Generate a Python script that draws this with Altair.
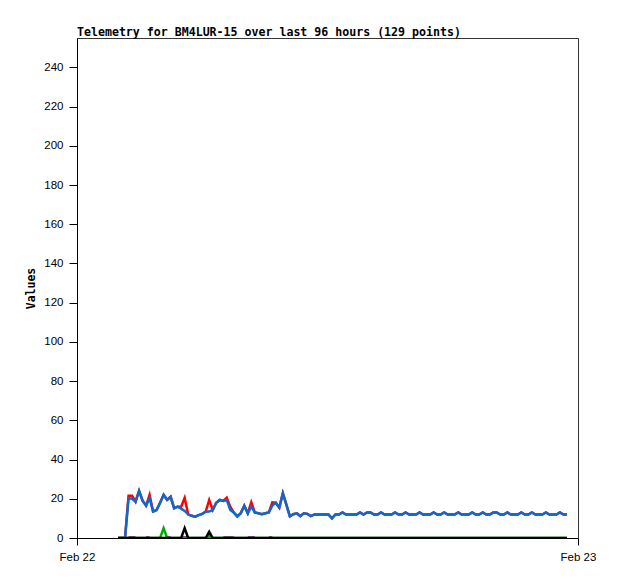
import altair as alt
import pandas as pd

title_text = "Telemetry for BM4LUR-15 over last 96 hours (129 points)"
x_tick_labels = ["Feb 22", "Feb 23"]
y_ticks = [0, 20, 40, 60, 80, 100, 120, 140, 160, 180, 200, 220, 240]

# hours after Feb 22 00:00 of first sample and sample spacing (10 min)
t_first = 1.965
t_step = 0.168

blue = [0, 0, 0, 20.3, 20, 18.5, 24, 19, 16.5, 20.3,
        13.5, 14.3, 18, 22, 19.4, 21, 15.2, 16, 15, 13.8,
        12.1, 11.3, 10.9, 11.7, 12.3, 13.4, 13.5, 14.3, 18, 19.4,
        18.9, 19.4, 14.3, 13, 11, 12.6, 16.5, 12.6, 16, 13,
        12.6, 12.1, 12.6, 13, 16.5, 18, 15.5, 22.8, 17, 11,
        12.1, 12.6, 11.2, 12.6, 12.3, 11.2, 12, 12, 12, 12,
        12, 10, 12, 12, 13, 12, 12, 12, 12, 13,
        12, 13, 13, 12, 12, 13, 12, 12, 12, 13,
        12, 12, 13, 12, 12, 12, 13, 12, 12, 12,
        13, 12, 12, 13, 12, 12, 12, 13, 12, 12,
        12, 13, 12, 12, 13, 12, 12, 13, 13, 12,
        12, 13, 12, 12, 12, 13, 12, 12, 13, 12,
        12, 12, 13, 12, 12, 12, 13, 12, 12]

red_override = {3: 21.5, 4: 21.5, 9: 22, 18: 16, 19: 20.5, 26: 19.4,
                31: 20.6, 32: 16, 38: 18.2, 44: 18.2}
red = [red_override.get(i, v) for i, v in enumerate(blue)]

green = [0] * 129
green[13] = 5
green[26] = 1

black = [0] * 129
black[19] = 5
black[26] = 3.2

# purple is visible only in short stretches along the baseline
purple_segments = [(3, 5), (8, 9), (14, 15), (18, 20), (25, 26), (30, 33), (37, 39), (43, 44)]

rows = []
for i in range(129):
    t = t_first + i * t_step
    rows.append({"t": t, "v": red[i], "s": "red", "seg": 0})
    rows.append({"t": t, "v": blue[i], "s": "blue", "seg": 0})
    rows.append({"t": t, "v": green[i], "s": "green", "seg": 0})
    rows.append({"t": t, "v": black[i], "s": "black", "seg": 0})
for k, (a, b) in enumerate(purple_segments):
    for i in range(a, b + 1):
        rows.append({"t": t_first + i * t_step, "v": 0, "s": "purple", "seg": k})
df = pd.DataFrame(rows)

x_enc = alt.X("t:Q", scale=alt.Scale(domain=[0, 24], nice=False, zero=False),
              axis=alt.Axis(values=[0, 24], title=None, grid=False,
                            labelExpr="datum.value == 0 ? '%s' : '%s'" % (x_tick_labels[0], x_tick_labels[1]),
                            tickSize=7, tickColor="black", domainColor="black",
                            labelFont="Liberation Sans", labelFontSize=11.5, labelColor="black",
                            labelPadding=6, labelFlush=False))
y_enc = alt.Y("v:Q", scale=alt.Scale(domain=[0, 255], nice=False),
              axis=alt.Axis(values=y_ticks, title="Values", grid=False,
                            tickSize=8, tickColor="black", domainColor="black",
                            labelFont="Liberation Sans", labelFontSize=11.5, labelColor="black",
                            labelPadding=6, titleFont="DejaVu Sans Mono", titleFontSize=11.5,
                            titleFontWeight="bold", titleColor="black", titlePadding=7))

base = alt.Chart(df)

def layer(name, color, width=2.5):
    return base.transform_filter(alt.datum.s == name).mark_line(
        color=color, strokeWidth=width, clip=True
    ).encode(x=x_enc, y=y_enc, detail="seg:N")

chart = alt.layer(
    layer("red", "#ff0000"),
    layer("blue", "#0a6ad0"),
    layer("purple", "#880088", 3.5),
    layer("green", "#00aa00"),
    layer("black", "#000000", 2.5),
).properties(
    width=501, height=500,
    view=alt.ViewBackground(stroke="#333333", strokeWidth=1),
    title=alt.TitleParams(title_text, anchor="start", frame="group", font="DejaVu Sans Mono",
                          fontSize=11.6, fontWeight="bold", color="black", offset=-1),
    autosize=alt.AutoSizeParams(type="none"),
    padding={"left": 69, "top": 30, "right": 32, "bottom": 33},
).configure_view(stroke="#333333", strokeWidth=1).configure(background="white")

chart.save("out.html", embed_options={"renderer": "svg", "actions": False})
